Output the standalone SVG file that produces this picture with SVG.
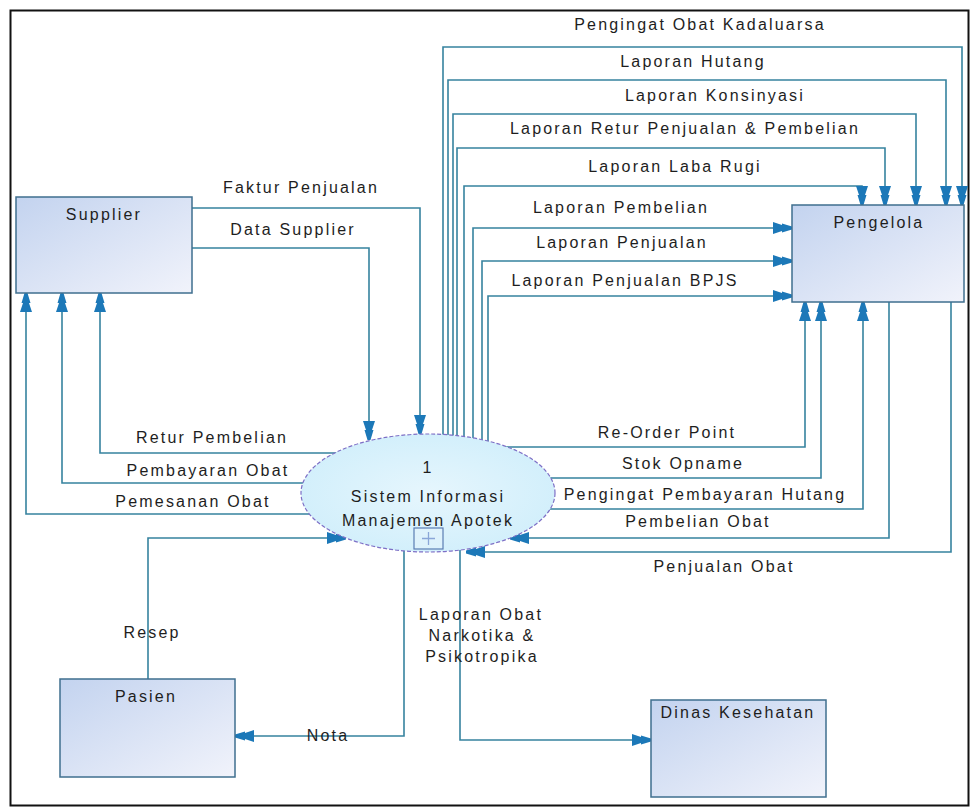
<svg xmlns="http://www.w3.org/2000/svg" width="976" height="812" viewBox="0 0 976 812">
<defs>
<linearGradient id="boxg" x1="0" y1="0" x2="1" y2="1">
<stop offset="0" stop-color="#c3d3ef"/>
<stop offset="1" stop-color="#f1f3fb"/>
</linearGradient>
<radialGradient id="ellg" cx="0.5" cy="0.5" r="0.6">
<stop offset="0" stop-color="#e6f6fd"/>
<stop offset="1" stop-color="#cfeefb"/>
</radialGradient>
<marker id="arr" viewBox="-20 -7 21 14" refX="0" refY="0" markerWidth="21" markerHeight="14" markerUnits="userSpaceOnUse" orient="auto">
<path d="M-19,-6 L-10,-3 L-10,-4.5 L0,-1.5 L0,1.5 L-10,4.5 L-10,3 L-19,6 Z" fill="#1c78b8"/>
</marker>
</defs>
<style>
.ln{fill:none;stroke:#36839f;stroke-width:1.6}
.ar{marker-end:url(#arr)}
.box{fill:url(#boxg);stroke:#3f6f8f;stroke-width:1.5}
.t{font-family:"Liberation Sans",Arial,sans-serif;font-size:16px;letter-spacing:2.2px;fill:#1e1e1e;text-anchor:middle}
</style>
<rect x="0" y="0" width="976" height="812" fill="#ffffff"/>
<rect x="10.5" y="10.5" width="958" height="795" fill="none" stroke="#111" stroke-width="2"/>

<g id="connectors">
<path class="ln ar" d="M443,445 V47 H962 V205"/>
<path class="ln ar" d="M448,445 V80 H946 V205"/>
<path class="ln ar" d="M453,445 V114 H916 V205"/>
<path class="ln ar" d="M457,445 V148 H885 V205"/>
<path class="ln ar" d="M464,445 V186 H862 V205"/>
<path class="ln ar" d="M473,445 V228 H792"/>
<path class="ln ar" d="M482,445 V261 H792"/>
<path class="ln ar" d="M488,445 V296 H792"/>
<path class="ln ar" d="M192,208 H420 V434"/>
<path class="ln ar" d="M192,248 H369 V440"/>
<path class="ln ar" d="M345,453 H100 V293"/>
<path class="ln ar" d="M315,483 H62 V293"/>
<path class="ln ar" d="M320,514 H26 V293"/>
<path class="ln ar" d="M500,447 H805 V302"/>
<path class="ln ar" d="M540,478 H821 V302"/>
<path class="ln ar" d="M540,509 H863 V302"/>
<path class="ln ar" d="M889,302 V538 H510"/>
<path class="ln ar" d="M951,302 V552 H466"/>
<path class="ln ar" d="M148,679 V538 H346"/>
<path class="ln ar" d="M404,545 V736 H235"/>
<path class="ln ar" d="M460,545 V740 H651"/>
</g>

<g id="labels">
<text class="t" x="700" y="30">Pengingat Obat Kadaluarsa</text>
<text class="t" x="693" y="67">Laporan Hutang</text>
<text class="t" x="715" y="101">Laporan Konsinyasi</text>
<text class="t" x="685" y="134">Laporan Retur Penjualan &amp; Pembelian</text>
<text class="t" x="675" y="172">Laporan Laba Rugi</text>
<text class="t" x="621" y="213">Laporan Pembelian</text>
<text class="t" x="622" y="248">Laporan Penjualan</text>
<text class="t" x="625" y="286">Laporan Penjualan BPJS</text>
<text class="t" x="301" y="193">Faktur Penjualan</text>
<text class="t" x="293" y="235">Data Supplier</text>
<text class="t" x="212" y="443">Retur Pembelian</text>
<text class="t" x="208" y="476">Pembayaran Obat</text>
<text class="t" x="193" y="507">Pemesanan Obat</text>
<text class="t" x="667" y="438">Re-Order Point</text>
<text class="t" x="683" y="469">Stok Opname</text>
<text class="t" x="705" y="500">Pengingat Pembayaran Hutang</text>
<text class="t" x="698" y="527">Pembelian Obat</text>
<text class="t" x="724" y="572">Penjualan Obat</text>
<text class="t" x="152" y="638">Resep</text>
<text class="t" x="328" y="741">Nota</text>
<text class="t" x="481" y="620">Laporan Obat</text>
<text class="t" x="482" y="641">Narkotika &amp;</text>
<text class="t" x="482" y="662">Psikotropika</text>
</g>

<g id="supplier">
<rect class="box" x="16" y="197" width="176" height="96"/>
<text class="t" x="104" y="220">Supplier</text>
</g>
<g id="pengelola">
<rect class="box" x="792" y="205" width="172" height="97"/>
<text class="t" x="879" y="228">Pengelola</text>
</g>
<g id="pasien">
<rect class="box" x="60" y="679" width="175" height="98"/>
<text class="t" x="146" y="702">Pasien</text>
</g>
<g id="dinas-kesehatan">
<rect class="box" x="651" y="700" width="175" height="97"/>
<text class="t" x="738" y="718">Dinas Kesehatan</text>
</g>
<g id="process-1">
<ellipse cx="428" cy="493" rx="127" ry="59" fill="url(#ellg)" stroke="#7d6fc6" stroke-width="1.2" stroke-dasharray="4 2"/>
<rect x="414" y="528" width="29" height="21" fill="#e3f4fc" fill-opacity="0.6" stroke="#5a7db3" stroke-width="1.2"/>
<path d="M428.5,532 V545 M422,538.5 H435" stroke="#8aa6d8" stroke-width="1.3" fill="none"/>
<text class="t" x="428" y="473">1</text>
<text class="t" x="428" y="502">Sistem Informasi</text>
<text class="t" x="428" y="526">Manajemen Apotek</text>
</g>
</svg>
